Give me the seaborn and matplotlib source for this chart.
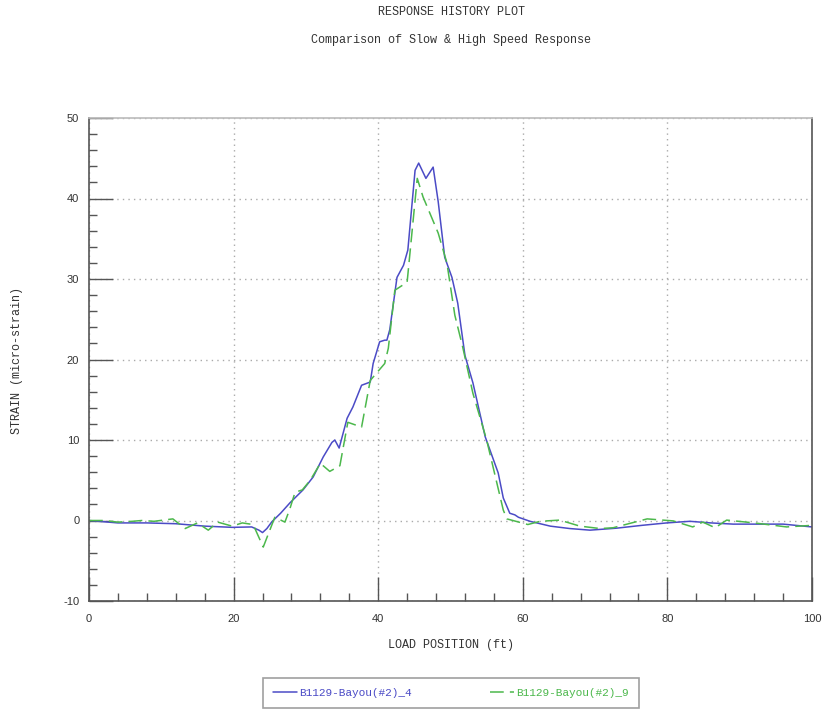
import matplotlib
matplotlib.use("Agg")
import matplotlib.pyplot as plt
import seaborn as sns
import numpy as np
import pandas as pd
from matplotlib.ticker import MultipleLocator

# ---- data ----
blue_x = [0, 4, 8, 12, 16, 19.8, 22.5, 23.5, 24, 24.6, 25.3, 26.5, 27.8, 29.6, 31.0, 32.4,
          33.6, 34.0, 34.6, 35.7, 36.5, 37.7, 38.9, 39.3, 40.2, 40.9, 41.2, 41.6, 42.6, 43.5,
          44.1, 45.1, 45.6, 46.6, 47.6, 48.3, 49.2, 50.2, 51.0, 52.0, 53.1, 54.8, 56.6, 57.3,
          58.2, 58.9, 59.4, 61.0, 63.8, 66.5, 69.3, 73.0, 76.5, 79.9, 83.1, 86.0, 89.1, 92.5,
          96.0, 100]
blue_y = [0, -0.3, -0.3, -0.4, -0.7, -0.85, -0.8, -1.2, -1.5, -1.0, -0.15, 0.9, 2.2, 3.8, 5.4, 7.9,
          9.7, 10.0, 9.0, 12.7, 14.1, 16.8, 17.2, 19.5, 22.2, 22.4, 22.4, 23.7, 30.2, 31.7,
          33.6, 43.5, 44.4, 42.5, 43.9, 39.6, 32.7, 30.2, 27.0, 20.5, 17.1, 10.4, 5.9, 2.8,
          0.9, 0.7, 0.4, -0.1, -0.7, -1.0, -1.2, -0.95, -0.6, -0.3, -0.1, -0.3, -0.45, -0.45,
          -0.45, -0.8]

green_x = [0, 2, 4, 6, 7.3, 9, 11.6, 13.3, 15.0, 16.5, 17.8, 19.8, 21.2, 22.7, 24.1, 25.7,
           27.1, 27.8, 28.5, 29.5, 30.6, 32.0, 33.3, 34.7, 35.8, 37.7, 38.9, 40.9, 41.4, 42.3,
           44.0, 45.4, 46.2, 48.3, 49.5, 50.6, 51.7, 53.1, 55.0, 57.3, 57.8, 60.7, 62.4, 65.1,
           67.9, 70.7, 72.5, 77.2, 80.8, 83.5, 84.9, 86.6, 88.2, 92.0, 96.5, 100]
green_y = [0, 0, -0.2, -0.1, 0, -0.1, 0.2, -1.0, -0.3, -1.2, -0.2, -0.7, -0.3, -0.5, -3.3, 0.4,
           -0.2, 1.5, 3.5, 3.8, 5.0, 7.1, 6.1, 6.8, 12.2, 11.6, 17.4, 19.5, 21.4, 28.6,
           29.6, 42.5, 40.2, 35.7, 32.0, 25.5, 21.5, 15.8, 10.0, 1.3, 0.2, -0.5, -0.1, 0.05,
           -0.7, -1.0, -0.9, 0.2, -0.05, -0.8, -0.2, -0.9, 0.05, -0.3, -0.8, -0.6]

label_blue = "B1129-Bayou(#2)_4"
label_green = "B1129-Bayou(#2)_9"
title = "RESPONSE HISTORY PLOT"
subtitle = "Comparison of Slow & High Speed Response"
xlabel = "LOAD POSITION (ft)"
ylabel = "STRAIN (micro-strain)"

blue_c = "#4b4bc6"
green_c = "#4cb84c"
mono = "Liberation Mono"

sns.set_theme(style="white")
plt.rcParams["font.family"] = ["Liberation Sans", "DejaVu Sans"]
plt.rcParams["axes.unicode_minus"] = False

fig = plt.figure(figsize=(8.22, 7.10), dpi=100)
ax = fig.add_axes([89/822, 1-601/710, 723/822, 483/710])

df_b = pd.DataFrame({"x": blue_x, "y": blue_y})
df_g = pd.DataFrame({"x": green_x, "y": green_y})
sns.lineplot(data=df_b, x="x", y="y", ax=ax, sort=False, color=blue_c, lw=1.1, label=label_blue)
sns.lineplot(data=df_g, x="x", y="y", ax=ax, sort=False, color=green_c, lw=1.1,
             dashes=False, label=label_green)
ax.lines[1].set_dashes([9, 4])

ax.set_xlim(0, 100)
ax.set_ylim(-10, 50)
ax.xaxis.set_major_locator(MultipleLocator(20))
ax.xaxis.set_minor_locator(MultipleLocator(4))
ax.yaxis.set_major_locator(MultipleLocator(10))
ax.yaxis.set_minor_locator(MultipleLocator(2))
ax.tick_params(axis="both", which="major", direction="in", length=17, width=1, color="#555555",
               labelsize=8, labelcolor="#333333")
ax.tick_params(axis="x", which="major", pad=9)
ax.tick_params(axis="y", which="major", pad=7)
ax.tick_params(axis="both", which="minor", direction="in", length=6, width=1, color="#555555")
ax.tick_params(bottom=True, left=True, which="both")

ax.grid(True, which="major", linestyle=(0, (1, 3)), color="#aaaaaa", lw=1)
for s in ["left", "bottom", "right"]:
    ax.spines[s].set_color("#555555")
    ax.spines[s].set_linewidth(1.2)
ax.spines["top"].set_color("#bbbbbb")
ax.spines["top"].set_linewidth(1.2)

ax.set_xlabel("")
ax.set_ylabel("")
fig.text(451/822, 1-645/710, xlabel, family=mono, fontsize=8.5, color="#333333", ha="center", va="center")
fig.text(17/822, 1-360/710, ylabel, family=mono, fontsize=8.5, color="#333333", ha="center",
         va="center", rotation=90)
fig.text(451/822, 1-12/710, title, family=mono, fontsize=8.5, color="#333333", ha="center", va="center")
fig.text(451/822, 1-40/710, subtitle, family=mono, fontsize=8.5, color="#333333", ha="center", va="center")

ax.get_legend().remove()
h, l = ax.get_legend_handles_labels()
leg = fig.legend(h, l, loc="upper center", bbox_to_anchor=(451/822, 1-678/710), ncol=2,
                 frameon=True, fancybox=False, edgecolor="#888888", prop={"family": mono, "size": 8},
                 handlelength=2.2, handletextpad=0.2, columnspacing=7, borderpad=0.9,
                 borderaxespad=0)
leg.get_frame().set_linewidth(1.2)
for t, c in zip(leg.get_texts(), [blue_c, green_c]):
    t.set_color(c)

fig.savefig("out.png", dpi=100)
